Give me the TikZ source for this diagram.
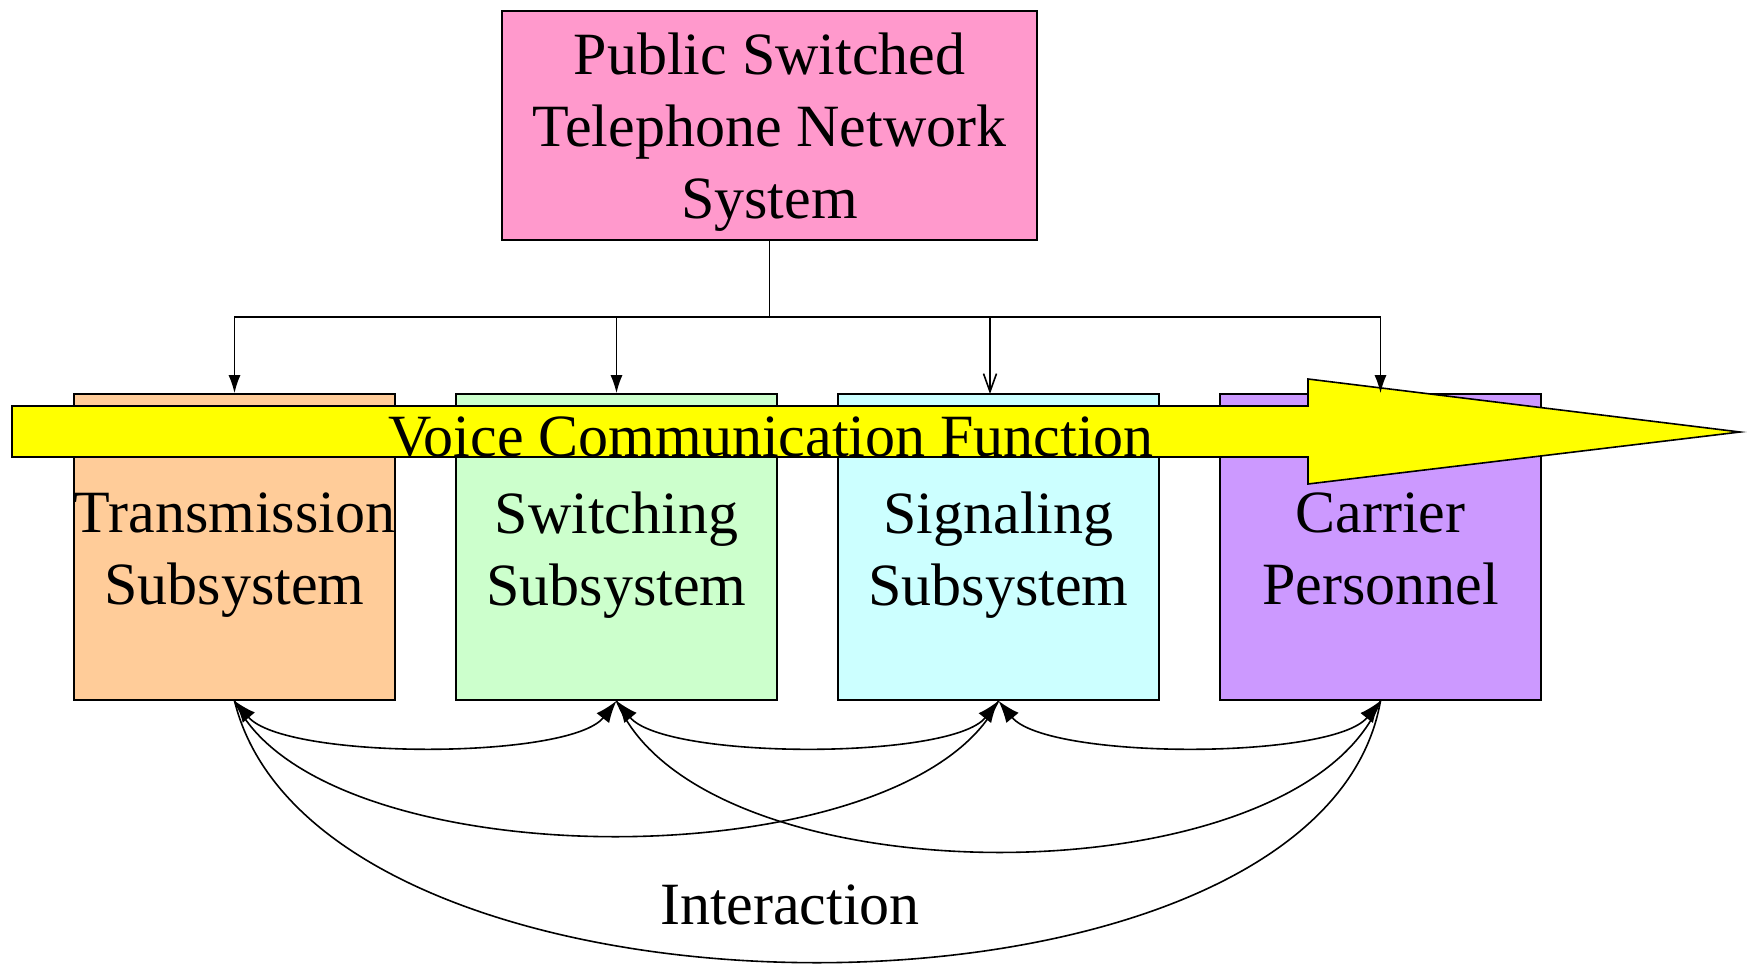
\documentclass[tikz,border=0pt]{standalone}
\usepackage{fontspec}
\setmainfont{Liberation Serif}
\usetikzlibrary{arrows.meta}
\definecolor{cpink}{RGB}{255,153,204}
\definecolor{corange}{RGB}{255,204,153}
\definecolor{cgreen}{RGB}{204,255,204}
\definecolor{ccyan}{RGB}{204,255,255}
\definecolor{cpurple}{RGB}{204,153,255}
\definecolor{cyellow}{RGB}{255,255,0}
\tikzset{
  box/.style={draw=black, line width=1.6pt, rectangle, inner sep=0pt},
  subbox/.style={box, minimum width=321pt, minimum height=306pt},
  txt/.style={font=\fontsize{60}{72}\selectfont, inner sep=0pt, align=center},
  conn/.style={line width=1.6pt},
  arr/.style={conn, -{Latex[length=18pt,width=12pt]}},
  openarr/.style={conn, -{Straight Barb[length=18pt,width=13pt]}},
  dbl/.style={conn, {Latex[length=22pt,width=16pt]}-{Latex[length=22pt,width=16pt]}}
}
\begin{document}
\begin{tikzpicture}[x=1pt,y=-1pt]
\useasboundingbox (0,0) rectangle (1749,966);

\node[box, fill=cpink, minimum width=535pt, minimum height=229pt] (top) at (769.5,125.5) {};
\node[txt] (toptxt) at (769.5,132.5) {Public Switched\\Telephone Network\\System};

\node[subbox, fill=corange] (trans) at (234.5,547) {};
\node[subbox, fill=cgreen] (switch) at (616.5,547) {};
\node[subbox, fill=ccyan] (signal) at (998.5,547) {};
\node[subbox, fill=cpurple] (carrier) at (1380.5,547) {};
\node[txt] (transtxt) at (234.5,555) {Transmission\\Subsystem};
\node[txt] (switchtxt) at (616.5,555) {Switching\\Subsystem};
\node[txt] (signaltxt) at (998.5,555) {Signaling\\Subsystem};
\node[txt] (carriertxt) at (1380.5,549) {Carrier\\Personnel};

% yellow arrow
\filldraw[fill=cyellow, draw=black, line width=1.6pt]
  (12,406) -- (1308,406) -- (1308,379) -- (1740,432) -- (1308,484) -- (1308,457) -- (12,457) -- cycle;
\node[txt, anchor=base] (vcf) at (771,456) {Voice Communication Function};

% tree connectors
\coordinate (bus) at (769.5,317);
\coordinate (sigin) at (990,394);
\draw[conn] (top.south) -- (bus);
\draw[arr] (bus) -| (trans.north);
\draw[arr] (bus) -| (switch.north);
\draw[openarr] (bus) -| (sigin);
\draw[arr] (bus) -| (carrier.north);

% interaction curves
\draw[conn] (trans.south) .. controls (320,882) and (910,882) .. (signal.south);
\draw[conn] (switch.south) .. controls (700,903) and (1300,903) .. (carrier.south);
\draw[conn] (trans.south) .. controls (320,1050) and (1320,1050) .. (carrier.south);
\draw[dbl] (trans.south) .. controls (285,760) and (570,760) .. (switch.south);
\draw[dbl] (switch.south) .. controls (665,760) and (952,760) .. (signal.south);
\draw[dbl] (signal.south) .. controls (1047,760) and (1333,760) .. (carrier.south);

\node[txt] (inter) at (790,905) {Interaction};
\end{tikzpicture}
\end{document}
